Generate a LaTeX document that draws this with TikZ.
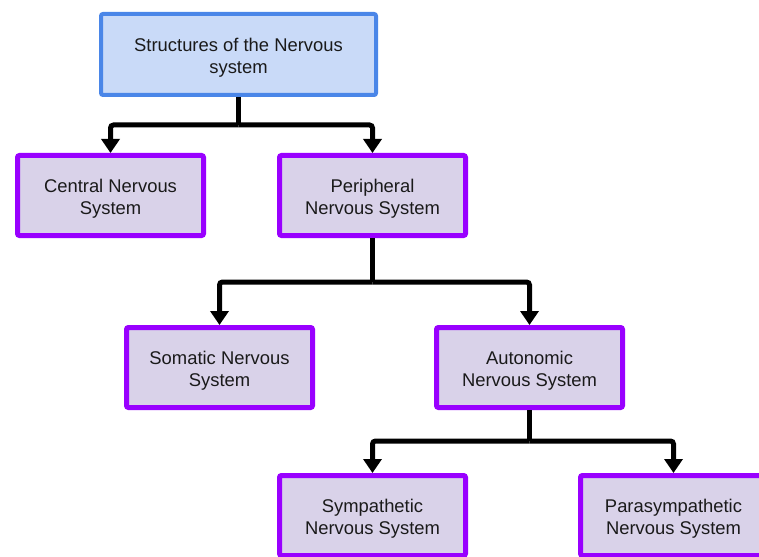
\documentclass[tikz,border=0pt]{standalone}
\usepackage{fontspec}
\setmainfont{Liberation Sans}
\usetikzlibrary{arrows.meta}
\definecolor{bluebd}{HTML}{4A86E8}
\definecolor{bluefill}{HTML}{C9DAF8}
\definecolor{purpbd}{HTML}{9900FF}
\definecolor{purpfill}{HTML}{D9D2E9}
\definecolor{txt}{HTML}{1A1A1A}
\begin{document}
\begin{tikzpicture}[x=1pt,y=-1pt,
  boxtxt/.style={align=center,inner sep=0pt,font=\fontsize{18.4}{22}\selectfont,text=txt,
    label={[yshift=-3pt,align=center,inner sep=0pt,font=\fontsize{18.4}{22}\selectfont,text=txt]center:#1}},
  topbox/.style={draw=bluebd,fill=bluefill,line width=4pt,rounded corners=2pt,
    minimum width=275pt,minimum height=81pt,boxtxt=#1},
  subbox/.style={draw=purpbd,fill=purpfill,line width=5pt,rounded corners=2pt,
    minimum width=186pt,minimum height=80pt,boxtxt=#1},
  link/.style={line width=5pt,rounded corners=3pt},
  arr/.style={link,-{Triangle[length=14pt,width=18pt]}}]
\useasboundingbox (0,0) rectangle (759,556);
\clip (0,0) rectangle (759,556);
\node[topbox={Structures of the Nervous\\system}] (top) at (238.5,54.5) {};
\node[subbox={Central Nervous\\System}] (cns) at (110.5,195.5) {};
\node[subbox={Peripheral\\Nervous System}] (pns) at (372.5,195.5) {};
\node[subbox={Somatic Nervous\\System}] (som) at (219.5,367.5) {};
\node[subbox={Autonomic\\Nervous System}] (aut) at (529.5,367.5) {};
\node[subbox={Sympathetic\\Nervous System}] (sym) at (372.5,515.5) {};
\node[subbox={Parasympathetic\\Nervous System}] (para) at (673.5,515.5) {};
\coordinate (j1) at (238.5,125);
\coordinate (j2) at (372.5,282);
\coordinate (j3) at (529.5,441);
\draw[link] (top.south) -- (j1);
\draw[arr] (j1) -| (cns.north);
\draw[arr] (j1) -| (pns.north);
\draw[link] (pns.south) -- (j2);
\draw[arr] (j2) -| (som.north);
\draw[arr] (j2) -| (aut.north);
\draw[link] (aut.south) -- (j3);
\draw[arr] (j3) -| (sym.north);
\draw[arr] (j3) -| (para.north);
\end{tikzpicture}
\end{document}
